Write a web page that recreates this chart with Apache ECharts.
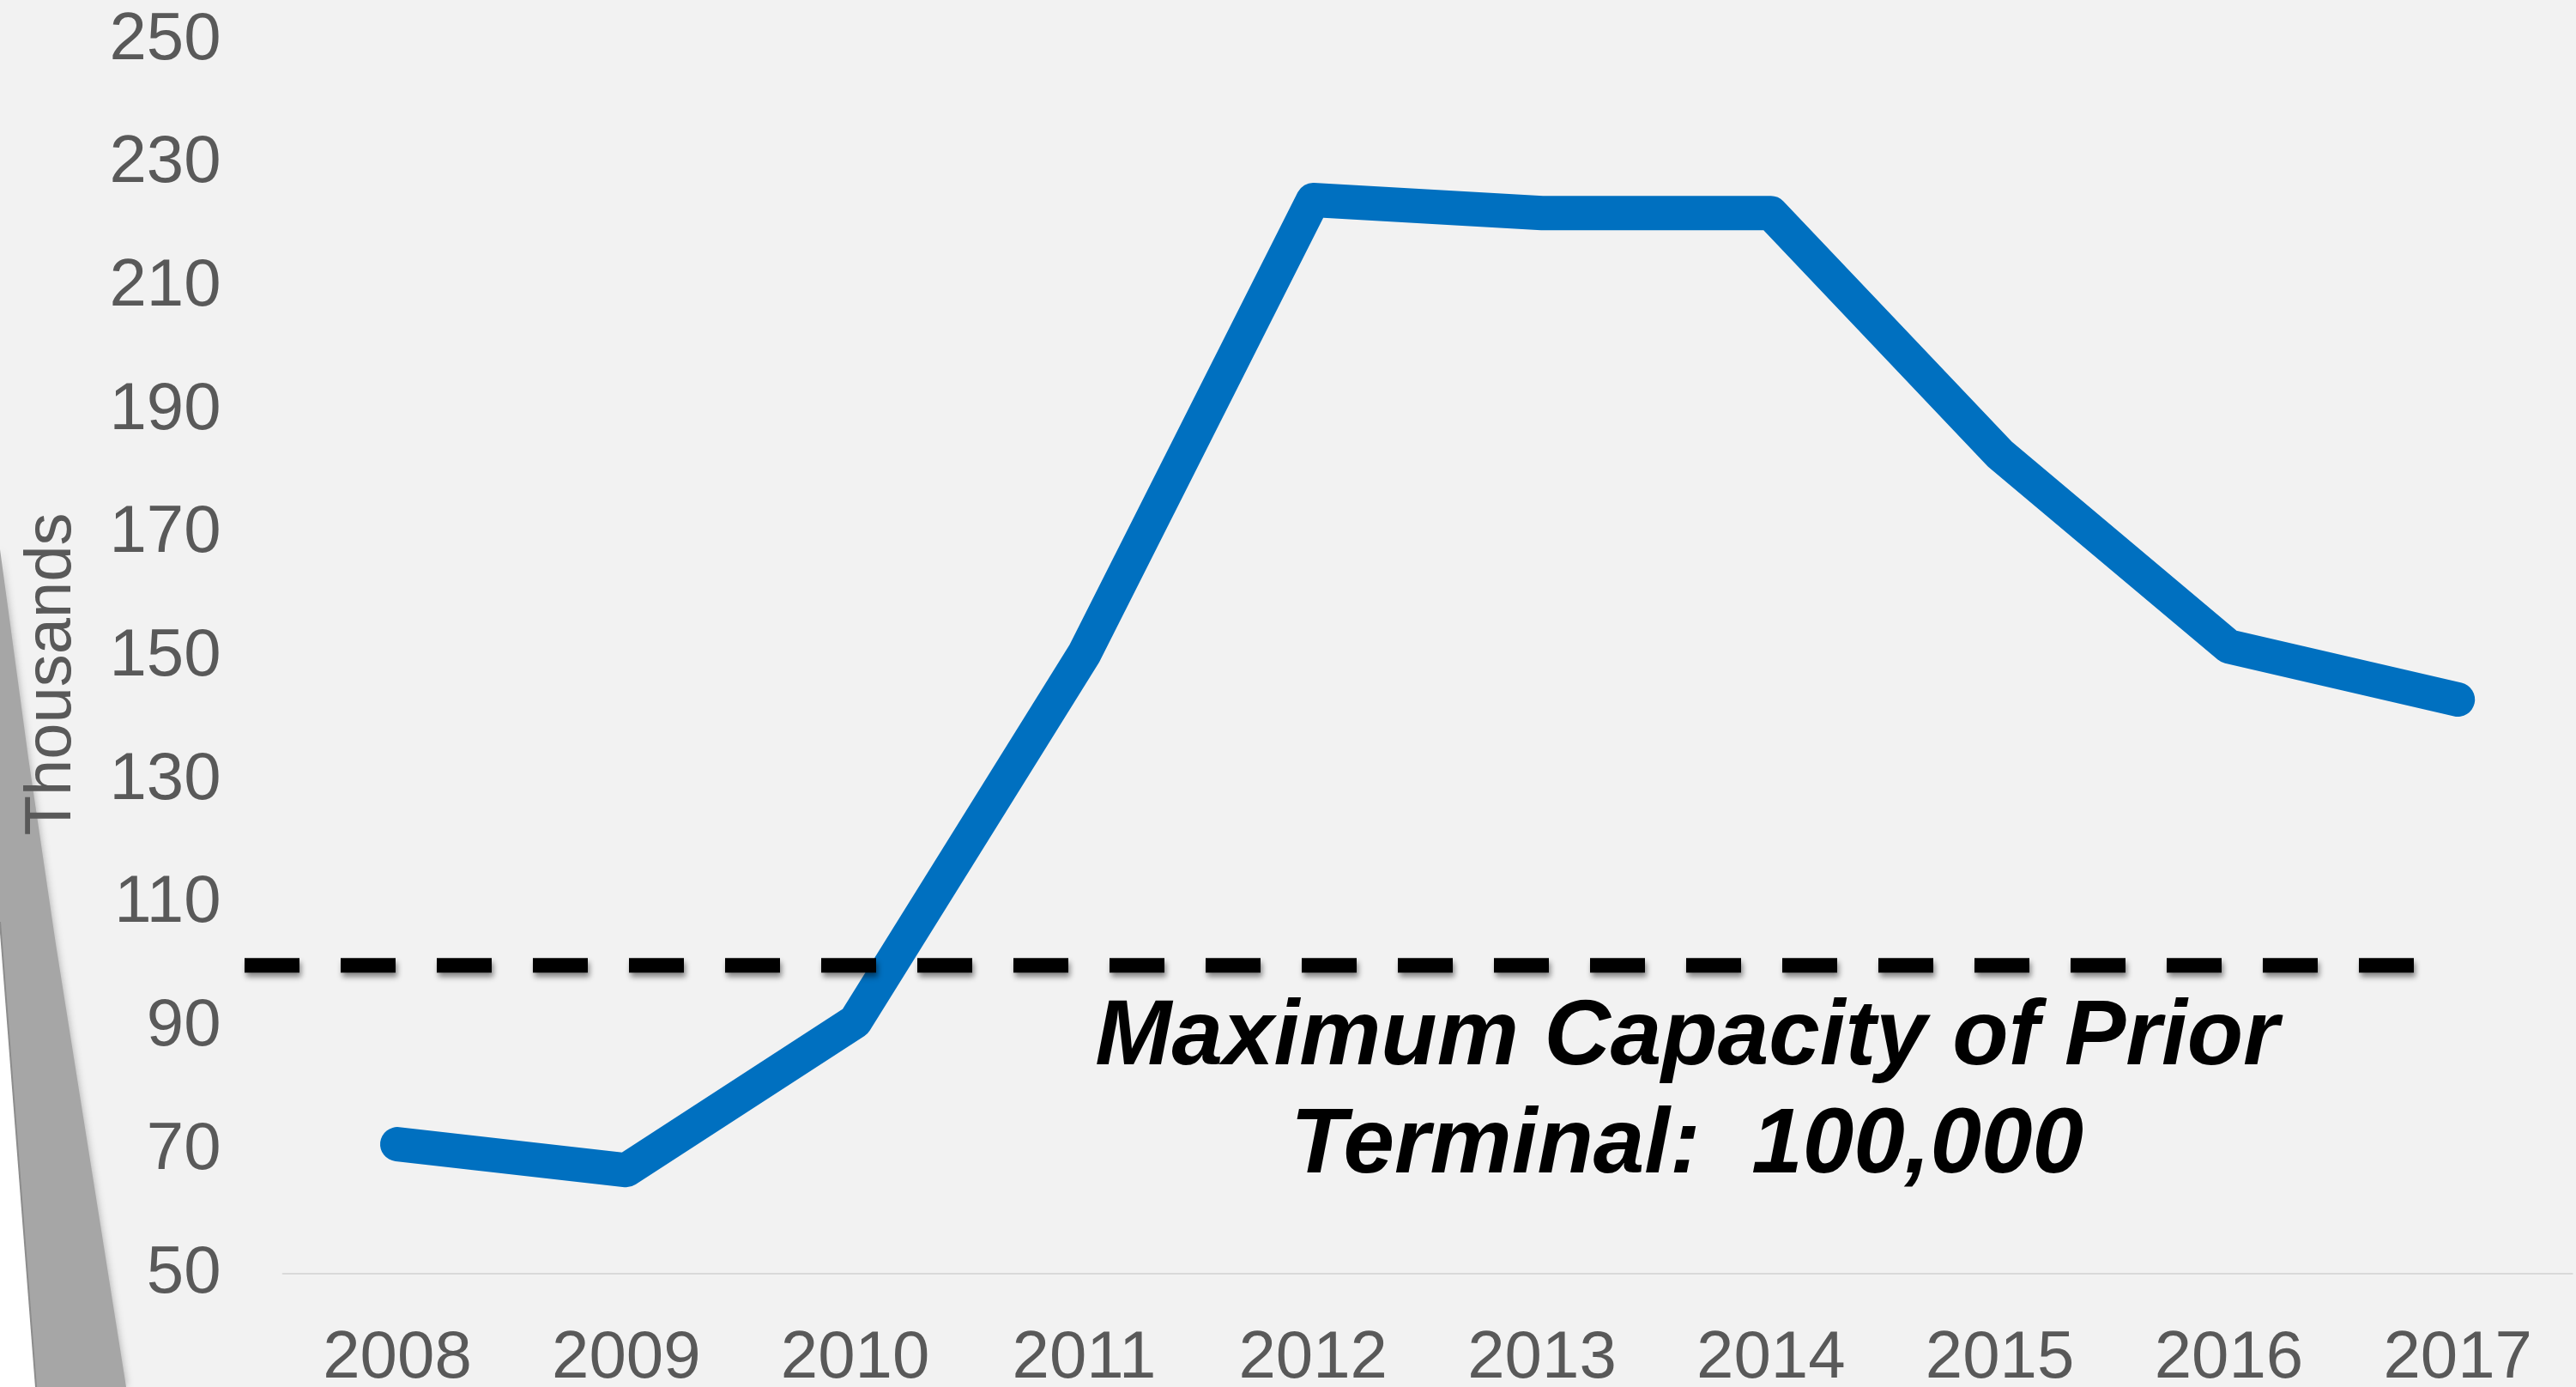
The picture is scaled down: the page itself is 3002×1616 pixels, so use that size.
<!DOCTYPE html>
<html>
<head>
<meta charset="utf-8">
<title>Passenger volume vs. prior terminal capacity</title>
<script src="https://cdn.jsdelivr.net/npm/echarts@6/dist/echarts.min.js"></script>
<style>
  html, body { margin: 0; padding: 0; background: #F2F2F2; }
  #chart { width: 3002px; height: 1616px; }
</style>
</head>
<body>
<div id="chart"></div>
<script>
// Years on the category axis
const years = ['2008', '2009', '2010', '2011', '2012', '2013', '2014', '2015', '2016', '2017'];
// Annual volume, in thousands
const volume = [71.0, 66.8, 90.9, 150.5, 224.1, 222.0, 222.0, 182.9, 151.7, 143.1];
// Value-axis tick labels (thousands)
const yTicks = [50, 70, 90, 110, 130, 150, 170, 190, 210, 230, 250];
// Maximum capacity of the prior terminal, in thousands
const priorCapacity = 100;

const TEXT_GREY = '#595959';
const FONT = '"Liberation Sans", Arial, sans-serif';
const Y_MIN = yTicks[0];
const Y_MAX = yTicks[yTicks.length - 1];

const capacityLabel = 'Maximum Capacity of Prior\nTerminal:  ' +
  (priorCapacity * 1000).toLocaleString('en-US');

const chart = echarts.init(document.getElementById('chart'), null, { renderer: 'canvas' });

chart.setOption({
  animation: false,
  backgroundColor: '#F2F2F2',
  grid: [
    // main plot
    { left: 329.6, right: 4.4, top: 47, bottom: 132, containLabel: false, outerBoundsMode: 'none' },
    // the capacity rule runs a little wider than the plot, on the same vertical scale
    { left: 285, right: 189, top: 47, bottom: 132, containLabel: false, outerBoundsMode: 'none' }
  ],
  xAxis: [
    {
      type: 'category',
      gridIndex: 0,
      data: years,
      boundaryGap: true,
      axisLine: { show: true, lineStyle: { color: '#D9D9D9', width: 2 } },
      axisTick: { show: false },
      splitLine: { show: false },
      axisLabel: {
        color: TEXT_GREY, fontFamily: FONT, fontSize: 78, lineHeight: 78, margin: 60
      }
    },
    { type: 'value', gridIndex: 1, min: 0, max: 1, show: false }
  ],
  yAxis: [
    {
      type: 'value',
      gridIndex: 0,
      min: Y_MIN,
      max: Y_MAX,
      name: 'Thousands',
      nameLocation: 'middle',
      nameRotate: 90,
      nameGap: 231,
      nameTextStyle: {
        color: TEXT_GREY, fontFamily: FONT, fontSize: 76, padding: [0, 40, 0, 0]
      },
      axisLine: { show: false },
      axisTick: { show: false },
      splitLine: { show: false },
      axisLabel: {
        customValues: yTicks,
        color: TEXT_GREY, fontFamily: FONT, fontSize: 78, margin: 72,
        padding: [8, 0, 0, 0]
      }
    },
    { type: 'value', gridIndex: 1, min: Y_MIN, max: Y_MAX, show: false }
  ],
  series: [
    {
      name: 'Volume',
      type: 'line',
      xAxisIndex: 0,
      yAxisIndex: 0,
      data: volume,
      symbol: 'none',
      lineStyle: { color: '#0070C0', width: 40, cap: 'round', join: 'round' },
      z: 2
    },
    {
      name: 'Prior capacity',
      type: 'line',
      xAxisIndex: 1,
      yAxisIndex: 1,
      clip: false,
      symbol: 'none',
      data: [[0, priorCapacity], [1, priorCapacity]],
      lineStyle: {
        color: '#000000', width: 17, type: [64, 48], cap: 'butt',
        shadowColor: 'rgba(0,0,0,0.45)', shadowBlur: 6, shadowOffsetX: 2, shadowOffsetY: 5
      },
      z: 3
    }
  ],
  graphic: [
    // folded page edge at the far left
    {
      type: 'polygon', z: -10, silent: true,
      shape: { points: [[0, 640], [33, 883], [65, 1100], [106, 1358], [147, 1616], [0, 1616]] },
      style: { fill: '#A6A6A6', shadowBlur: 10, shadowColor: '#A6A6A6' }
    },
    {
      type: 'polygon', z: -9, silent: true,
      shape: { points: [[0, 1074], [42, 1616], [0, 1616]] },
      style: { fill: '#FFFFFF' }
    },
    {
      type: 'line', z: -8, silent: true,
      shape: { x1: 0, y1: 1074, x2: 42, y2: 1616 },
      style: { stroke: '#8C8C8C', lineWidth: 2 }
    },
    // capacity annotation
    {
      type: 'text', z: 20, silent: true,
      x: 1966, y: 1273,
      style: {
        text: capacityLabel,
        align: 'center',
        verticalAlign: 'middle',
        font: 'italic bold 107px ' + FONT,
        lineHeight: 126,
        fill: '#000000',
        shadowColor: 'rgba(0,0,0,0.4)', shadowBlur: 5, shadowOffsetX: 3, shadowOffsetY: 4
      }
    }
  ]
});
</script>
</body>
</html>
